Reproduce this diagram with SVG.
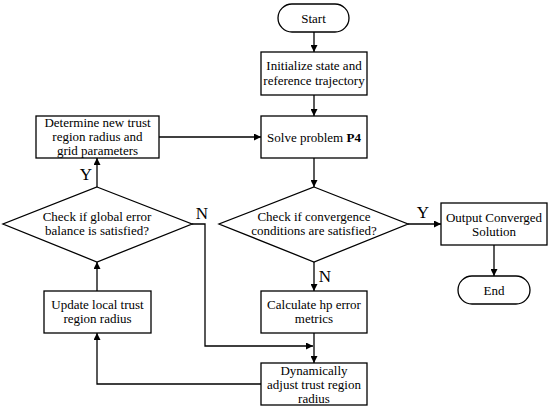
<svg xmlns="http://www.w3.org/2000/svg" width="550" height="411" viewBox="0 0 550 411">
<style>
.shape{fill:#fff;stroke:#000;stroke-width:1.3}
.t{font-family:"Liberation Serif","Times New Roman",serif;font-size:13px;text-anchor:middle;fill:#000}
.lbl{font-family:"Liberation Serif","Times New Roman",serif;font-size:17px;text-anchor:middle;fill:#000}
.c{fill:none;stroke:#000;stroke-width:1.3}
</style>
<defs>
<marker id="ah" viewBox="0 0 10 10" refX="10" refY="5" markerWidth="7" markerHeight="7" markerUnits="userSpaceOnUse" orient="auto">
<path d="M0,0 L10,5 L0,10 z" fill="#000"/>
</marker>
</defs>
<rect width="550" height="411" fill="#fff"/>
<g id="connectors">
<path class="c" d="M314,32 V52" marker-end="url(#ah)"/>
<path class="c" d="M314,95 V116" marker-end="url(#ah)"/>
<path class="c" d="M314,158 V187" marker-end="url(#ah)"/>
<path class="c" d="M408,224 H441" marker-end="url(#ah)"/>
<path class="c" d="M494,245 V276" marker-end="url(#ah)"/>
<path class="c" d="M314,262 V291" marker-end="url(#ah)"/>
<path class="c" d="M314,333 V363" marker-end="url(#ah)"/>
<path class="c" d="M192,224 H205 V346 H313" marker-end="url(#ah)"/>
<path class="c" d="M261,384 H97 V333" marker-end="url(#ah)"/>
<path class="c" d="M97,291 V262" marker-end="url(#ah)"/>
<path class="c" d="M97,187 V158" marker-end="url(#ah)"/>
<path class="c" d="M159,137 H261" marker-end="url(#ah)"/>
<text class="lbl" x="423" y="218">Y</text>
<text class="lbl" x="325" y="282">N</text>
<text class="lbl" x="202" y="219">N</text>
<text class="lbl" x="86" y="180">Y</text>
</g>
<g id="start">
<rect class="shape" x="278" y="4" width="71" height="28" rx="14"/>
<text class="t" x="313.5" y="22.5">Start</text>
</g>
<g id="init">
<rect class="shape" x="261" y="52" width="106" height="43"/>
<text class="t" x="314" y="70">Initialize state and</text>
<text class="t" x="314" y="85">reference trajectory</text>
</g>
<g id="solve">
<rect class="shape" x="261" y="116" width="106" height="42"/>
<text class="t" x="314" y="141.5">Solve problem <tspan font-weight="bold">P4</tspan></text>
</g>
<g id="conv">
<polygon class="shape" points="314,187 408,224 314,262 219,224"/>
<text class="t" x="314" y="221">Check if convergence</text>
<text class="t" x="314" y="235">conditions are satisfied?</text>
</g>
<g id="output">
<rect class="shape" x="441" y="203" width="106" height="42"/>
<text class="t" x="494" y="222">Output Converged</text>
<text class="t" x="494" y="236">Solution</text>
</g>
<g id="end">
<rect class="shape" x="458" y="276" width="72" height="28" rx="14"/>
<text class="t" x="494" y="294.5">End</text>
</g>
<g id="calc">
<rect class="shape" x="261" y="291" width="106" height="42"/>
<text class="t" x="314" y="309">Calculate hp error</text>
<text class="t" x="314" y="323">metrics</text>
</g>
<g id="dynamic">
<rect class="shape" x="261" y="363" width="106" height="42"/>
<text class="t" x="314" y="375">Dynamically</text>
<text class="t" x="314" y="389">adjust trust region</text>
<text class="t" x="314" y="403">radius</text>
</g>
<g id="update">
<rect class="shape" x="44" y="291" width="107" height="42"/>
<text class="t" x="97.5" y="309">Update local trust</text>
<text class="t" x="97.5" y="323">region radius</text>
</g>
<g id="global">
<polygon class="shape" points="97,187 192,224 97,262 3,224"/>
<text class="t" x="97" y="221">Check if global error</text>
<text class="t" x="97" y="235">balance is satisfied?</text>
</g>
<g id="determine">
<rect class="shape" x="36" y="116" width="123" height="42"/>
<text class="t" x="97.5" y="127">Determine new trust</text>
<text class="t" x="97.5" y="141">region radius and</text>
<text class="t" x="97.5" y="155">grid parameters</text>
</g>
</svg>
